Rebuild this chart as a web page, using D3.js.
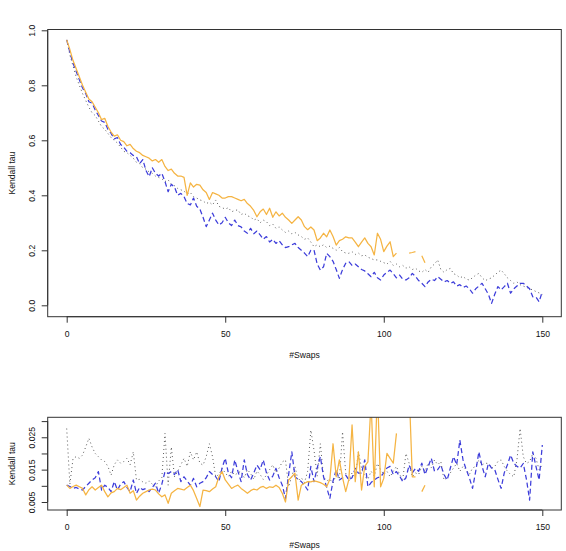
<!DOCTYPE html>
<html><head><meta charset="utf-8">
<script src="https://cdn.jsdelivr.net/npm/d3@7"></script>
<style>body{margin:0;background:#fff}svg{display:block}text{font-family:"Liberation Sans",Arial,sans-serif;fill:#111}</style>
</head><body><svg id="c" width="566" height="551"></svg>
<script>
const swaps = d3.range(0, 151);
const N = null;
// Top panel (Kendall tau)
const topOrange = [0.965,0.93,0.89,0.86,0.83,0.80,0.775,0.75,0.74,0.72,0.70,0.675,0.68,0.65,0.63,0.615,0.62,0.60,0.595,0.58,
0.585,0.57,0.56,0.555,0.545,0.54,0.535,0.525,0.53,0.52,0.53,0.505,0.49,0.495,0.48,0.47,0.47,0.465,0.40,0.445,
0.43,0.44,0.437,0.42,0.41,0.385,0.41,0.405,0.40,0.39,0.39,0.395,0.395,0.39,0.385,0.38,0.385,0.37,0.36,0.345,
0.322,0.34,0.35,0.33,0.353,0.32,0.34,0.325,0.335,0.32,0.31,0.298,0.31,0.322,0.31,0.286,0.275,0.285,0.274,0.235,
0.245,0.262,0.249,0.274,0.25,0.219,0.235,0.24,0.249,0.245,0.245,0.23,0.213,0.23,0.245,0.225,0.213,0.183,0.262,0.24,
0.195,0.215,0.231,0.177,0.19,N,N,N,0.19,0.192,0.195,N,0.18,0.155,N,N,N,N,N,N,
N,N,N,N,N,N,N,N,N,N,N,N,N,N,N,N,N,N,N,N,N,N,N,N,N,N,N,N,N,N,N];
const topBlue = [0.965,0.92,0.88,0.85,0.82,0.79,0.77,0.74,0.735,0.71,0.69,0.67,0.665,0.64,0.625,0.605,0.61,0.585,0.575,0.56,
0.555,0.545,0.54,0.515,0.53,0.49,0.468,0.50,0.48,0.47,0.48,0.45,0.413,0.44,0.43,0.40,0.407,0.395,0.37,0.365,
0.39,0.36,0.35,0.32,0.286,0.31,0.335,0.31,0.292,0.30,0.32,0.30,0.29,0.31,0.29,0.285,0.27,0.262,0.28,0.26,
0.27,0.256,0.24,0.25,0.23,0.24,0.225,0.235,0.22,0.21,0.213,0.22,0.225,0.21,0.20,0.19,0.177,0.20,0.201,0.15,
0.128,0.14,0.189,0.177,0.16,0.13,0.098,0.13,0.153,0.159,0.145,0.15,0.14,0.13,0.125,0.115,0.104,0.12,0.10,0.092,
0.11,0.12,0.128,0.115,0.10,0.11,0.095,0.092,0.10,0.116,0.105,0.09,0.08,0.068,0.085,0.095,0.09,0.104,0.095,0.085,
0.09,0.08,0.085,0.07,0.075,0.065,0.07,0.06,0.044,0.06,0.07,0.08,0.06,0.04,0.007,0.04,0.068,0.056,0.068,0.08,
0.044,0.06,0.07,0.08,0.08,0.07,0.06,0.031,0.03,0.013,0.05];
const topBlack = [0.965,0.91,0.87,0.83,0.80,0.77,0.745,0.72,0.70,0.69,0.67,0.65,0.64,0.625,0.61,0.60,0.59,0.575,0.56,0.555,
0.545,0.535,0.52,0.515,0.50,0.495,0.485,0.48,0.47,0.465,0.46,0.45,0.456,0.44,0.435,0.425,0.42,0.415,0.405,0.41,
0.395,0.39,0.383,0.38,0.37,0.375,0.365,0.383,0.36,0.355,0.35,0.355,0.34,0.345,0.347,0.33,0.335,0.325,0.322,0.31,
0.315,0.30,0.31,0.304,0.29,0.295,0.28,0.285,0.274,0.265,0.27,0.26,0.265,0.256,0.25,0.24,0.245,0.23,0.213,0.22,
0.213,0.22,0.21,0.215,0.207,0.20,0.21,0.195,0.19,0.189,0.195,0.185,0.19,0.18,0.183,0.175,0.17,0.165,0.165,0.16,
0.155,0.15,0.16,0.145,0.15,0.14,0.145,0.135,0.14,0.13,0.135,0.125,0.12,0.13,0.12,0.14,0.15,0.165,0.13,0.12,
0.13,0.134,0.115,0.11,0.10,0.105,0.095,0.092,0.10,0.11,0.116,0.10,0.09,0.095,0.10,0.11,0.12,0.128,0.115,0.10,
0.09,0.08,0.085,0.075,0.07,0.065,0.06,0.056,0.05,0.045,0.04];
// Bottom panel
const botOrange = [0.0102,0.0092,0.0098,0.0102,0.0097,0.0092,0.0072,0.0088,0.0097,0.0087,0.0095,0.0102,0.0082,0.0066,0.0078,0.0082,0.0092,0.0088,0.0095,0.0102,
0.0077,0.0085,0.0056,0.0068,0.0077,0.0082,0.0087,0.009,0.0087,0.0075,0.0066,0.0072,0.0046,0.0077,0.0085,0.0092,0.009,0.0087,0.0095,0.0102,
0.0085,0.0061,0.0036,0.0087,0.0085,0.0082,0.009,0.0097,0.0128,0.0144,0.0118,0.0105,0.0092,0.0098,0.0102,0.0092,0.0085,0.0077,0.0085,0.009,
0.0087,0.0095,0.0098,0.0092,0.0097,0.0095,0.0102,0.0095,0.0077,0.005,0.0118,0.0128,0.0139,0.0056,0.0102,0.0108,0.0113,0.0112,0.0115,0.0113,
0.011,0.0105,0.0097,0.012,0.023,0.0128,0.018,0.0125,0.0082,0.012,0.0288,0.0113,0.0205,0.0087,0.016,0.0174,0.036,0.0097,0.040,0.0097,
0.0123,0.020,0.0185,0.017,0.0262,N,N,N,0.040,0.0128,0.0128,N,0.0082,0.0102,N,N,N,N,N,N,
N,N,N,N,N,N,N,N,N,N,N,N,N,N,N,N,N,N,N,N,N,N,N,N,N,N,N,N,N,N,N];
const botBlue = [0.0102,0.0098,0.0092,0.0095,0.009,0.0087,0.0098,0.0108,0.0118,0.0125,0.0144,0.0087,0.0102,0.0095,0.0082,0.0113,0.0087,0.0105,0.0113,0.0095,
0.0082,0.0118,0.0077,0.0095,0.0088,0.0092,0.0082,0.0095,0.0108,0.0077,0.0105,0.0144,0.0138,0.0144,0.0135,0.015,0.0113,0.0128,0.0115,0.0102,
0.0123,0.0097,0.0108,0.0113,0.0125,0.0144,0.0135,0.0128,0.0113,0.0155,0.0185,0.0139,0.0125,0.018,0.0145,0.0113,0.018,0.0135,0.0118,0.014,
0.0164,0.015,0.018,0.014,0.0118,0.013,0.0154,0.0125,0.0102,0.0061,0.0135,0.0205,0.0128,0.012,0.0113,0.0102,0.0087,0.016,0.0113,0.0155,
0.019,0.0128,0.0095,0.0061,0.0115,0.015,0.0118,0.0125,0.0133,0.0118,0.0125,0.0154,0.0139,0.0139,0.018,0.0097,0.011,0.0118,0.0125,0.0128,
0.014,0.0155,0.016,0.0135,0.0144,0.013,0.0113,0.0125,0.0164,0.014,0.0154,0.0145,0.017,0.0135,0.016,0.0185,0.0145,0.015,0.0164,0.0135,
0.0118,0.0155,0.019,0.0165,0.0241,0.018,0.015,0.0125,0.0092,0.0145,0.0205,0.016,0.0128,0.0169,0.0155,0.015,0.012,0.0092,0.014,0.0165,
0.0195,0.017,0.016,0.0155,0.0169,0.012,0.0056,0.0205,0.016,0.0118,0.0226];
const botBlack = [0.0277,0.0105,0.0185,0.019,0.0185,0.0195,0.022,0.0247,0.022,0.020,0.019,0.018,0.0175,0.016,0.0133,0.0165,0.018,0.017,0.0175,0.0185,
0.0165,0.0205,0.0118,0.012,0.0112,0.0108,0.0115,0.0105,0.0097,0.0115,0.0125,0.0262,0.0102,0.022,0.0128,0.0145,0.0165,0.0185,0.016,0.0205,
0.018,0.0205,0.017,0.0164,0.019,0.023,0.019,0.0128,0.0135,0.0154,0.014,0.0128,0.0145,0.0133,0.014,0.0145,0.0125,0.015,0.0138,0.012,
0.0145,0.0135,0.012,0.0133,0.015,0.0165,0.014,0.0155,0.0174,0.018,0.0097,0.013,0.016,0.0115,0.0125,0.011,0.0145,0.0272,0.021,0.013,
0.023,0.0128,0.0115,0.012,0.0108,0.0135,0.012,0.0267,0.0139,0.0115,0.014,0.0125,0.0205,0.0155,0.0128,0.012,0.0145,0.013,0.0169,0.015,
0.0135,0.0145,0.0128,0.0145,0.016,0.0135,0.012,0.020,0.017,0.0128,0.014,0.0135,0.016,0.0145,0.017,0.0155,0.018,0.0165,0.0175,0.0118,
0.0125,0.014,0.0155,0.0169,0.0145,0.016,0.015,0.0135,0.0155,0.016,0.018,0.0165,0.017,0.0169,0.0155,0.016,0.0175,0.018,0.016,0.0145,
0.0135,0.0128,0.018,0.0277,0.019,0.0169,0.0175,0.020,0.0185,0.015,0.0165];
const xTicks = [0, 50, 100, 150];
const yTicksTop = [0, 0.2, 0.4, 0.6, 0.8, 1.0];
const yTicksBot = [0.005, 0.010, 0.015, 0.020, 0.025, 0.030];
const yLabelsBot = [0.005, 0.015, 0.025];
const xTitle = "#Swaps", yTitle = "Kendall tau";

const svg = d3.select("#c");
const x = d3.scaleLinear().domain([0, 150]).range([66.7, 542.3]);
const colors = {orange: "#F5B443", blue: "#3D3DDA", black: "#5a5a5a"};

function panel(id, box, y, series, yTicks, yLabels, fmt, xLabY, xTitleY) {
  const g = svg.append("g");
  g.append("clipPath").attr("id", id).append("rect")
    .attr("x", box.l).attr("y", box.t).attr("width", box.r - box.l).attr("height", box.b - box.t);
  const line = d3.line().defined(d => d.v != null).x(d => x(d.x)).y(d => y(d.v));
  const lg = g.append("g").attr("clip-path", `url(#${id})`);
  series.forEach(s => {
    lg.append("path").datum(swaps.map((sx, i) => ({x: sx, v: s.values[i]})))
      .attr("d", line).attr("fill", "none").attr("stroke", s.color)
      .attr("stroke-width", s.w).attr("stroke-dasharray", s.dash).attr("stroke-linejoin", "round");
  });
  g.append("rect").attr("x", box.l).attr("y", box.t).attr("width", box.r - box.l).attr("height", box.b - box.t)
    .attr("fill", "none").attr("stroke", "#333").attr("stroke-width", 1);
  const xa = g.append("g").attr("transform", `translate(0,${box.b})`)
    .call(d3.axisBottom(x).tickValues(xTicks).tickSize(6).tickPadding(0).tickFormat(d3.format("d")));
  xa.select(".domain").attr("d", `M${x(0)},0H${x(150)}`).attr("stroke", "#333");
  xa.selectAll(".tick line").attr("stroke", "#333");
  xa.selectAll("text").attr("y", xLabY - box.b).attr("dy", "0.35em").style("font-size", "8.6px").style("font-family", "Liberation Sans, Arial, sans-serif");
  const ya = g.append("g").attr("transform", `translate(${box.l},0)`)
    .call(d3.axisLeft(y).tickValues(yTicks).tickSize(6).tickFormat(d => yLabels.some(l => Math.abs(l - d) < 1e-9) ? fmt(d) : ""));
  ya.select(".domain").attr("d", `M0,${y(yTicks[0])}V${y(yTicks[yTicks.length - 1])}`).attr("stroke", "#333");
  ya.selectAll(".tick line").attr("stroke", "#333");
  ya.selectAll(".tick text").attr("x", 0).attr("y", 0).attr("dy", "0.35em")
    .attr("transform", `translate(${32 - box.l},0) rotate(-90)`).attr("text-anchor", "middle")
    .style("font-size", "8.6px").style("font-family", "Liberation Sans, Arial, sans-serif");
  g.append("text").attr("x", (box.l + box.r) / 2).attr("y", xTitleY).attr("dy", "0.35em")
    .attr("text-anchor", "middle").style("font-size", "8.6px").text(xTitle);
  g.append("text").attr("transform", `translate(12,${(box.t + box.b) / 2}) rotate(-90)`).attr("dy", "0.35em")
    .attr("text-anchor", "middle").style("font-size", "8.6px").text(yTitle);
}

const yTop = d3.scaleLinear().domain([0, 1]).range([305.3, 30.3]);
panel("clipTop", {l: 47.7, r: 561.3, t: 29.5, b: 316.7}, yTop, [
  {values: topBlack, color: colors.black, w: 1, dash: "1,3"},
  {values: topBlue, color: colors.blue, w: 1.25, dash: "5,3"},
  {values: topOrange, color: colors.orange, w: 1.25, dash: null}
], yTicksTop, yTicksTop, d3.format(".1f"), 334, 355);

const yBot = d3.scaleLinear().domain([0.005, 0.030]).range([502, 421.1]);
panel("clipBot", {l: 47.7, r: 561.3, t: 417.3, b: 510}, yBot, [
  {values: botBlack, color: colors.black, w: 1, dash: "1,3"},
  {values: botBlue, color: colors.blue, w: 1.25, dash: "5,3"},
  {values: botOrange, color: colors.orange, w: 1.25, dash: null}
], yTicksBot, yLabelsBot, d3.format(".3f"), 527, 545);
</script></body></html>
